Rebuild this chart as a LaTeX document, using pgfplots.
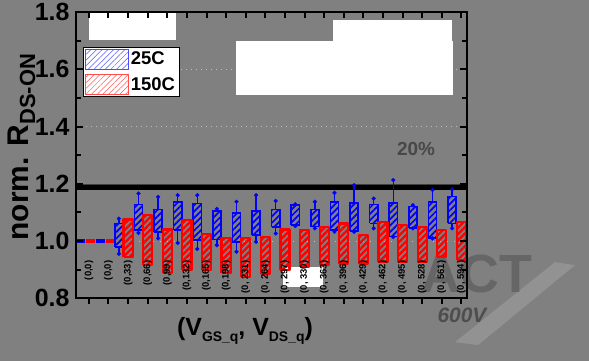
\documentclass[border=0pt]{standalone}
\usepackage{fontspec}
\setmainfont{Liberation Sans}
\usepackage{pgfplots}
\pgfplotsset{compat=1.18}
\usetikzlibrary{patterns.meta}
\definecolor{bg}{RGB}{128,128,128}
\definecolor{dtext}{RGB}{72,72,72}
\definecolor{dotc}{RGB}{190,190,190}
\definecolor{wm}{RGB}{102,102,102}
\definecolor{wm2}{RGB}{78,78,78}
\definecolor{sw}{RGB}{146,146,146}
\begin{document}
\begin{tikzpicture}
\fill[bg] (0bp,0bp) rectangle (589bp,361bp);
% watermark (behind the chart)
\fill[sw] (455bp,19bp) -- (555bp,99bp) -- (575bp,96bp) -- (478bp,16bp) -- cycle;
\node[anchor=base, font=\bfseries\fontsize{54}{54}\selectfont, text=wm, inner sep=0] at (477bp,69bp) {ACT};
\node[anchor=base, font=\bfseries\itshape\fontsize{21}{21}\selectfont, text=wm2, inner sep=0] at (462bp,39bp) {600V};
\begin{axis}[
  at={(76bp,63bp)}, anchor=south west,
  width=391bp, height=286bp, scale only axis,
  xmin=0.342, xmax=20.29, ymin=0.8, ymax=1.8,
  clip=false, axis on top,
  axis line style={line width=2.4bp, solid},
  major tick length=0bp, minor tick length=0bp,
  ytick={0.8,1.0,1.2,1.4,1.6,1.8},
  yticklabel style={font=\bfseries\fontsize{25}{25}\selectfont, xshift=-3bp,
    /pgf/number format/fixed, /pgf/number format/fixed zerofill, /pgf/number format/precision=1,
    /pgf/number format/assume math mode=true},
  xtick={1,...,20},
  xticklabels={{(0,0)},{(0,0)},{(0,33)},{(0,66)},{(0,99)},{(0,132)},{(0,165)},{(0,198)},{(0, 231)},{(0, 264)},{(0, 297)},{(0, 330)},{(0, 363)},{(0, 396)},{(0, 429)},{(0, 462)},{(0, 495)},{(0, 528)},{(0, 561)},{(0, 594)}},
  xticklabel style={font=\bfseries\fontsize{9.5}{9.5}\selectfont, rotate=90, anchor=east, xshift=41bp},
  legend style={at={(0.0179,0.8776)}, anchor=north west, draw=black, line width=0.6bp, fill=white,
    inner xsep=2bp, inner ysep=1.5bp, row sep=5bp,
    font=\bfseries\fontsize{18.5}{18.5}\selectfont, text=black},
  legend cell align=left,
  unbounded coords=jump,
]
% faint dotted reference lines
\addplot[forget plot, draw=dotc, line width=0.8bp, dash pattern=on 1bp off 4bp] coordinates {(0.342,1.6) (20.29,1.6)};
\addplot[forget plot, draw=dotc, line width=0.8bp, dash pattern=on 1bp off 4bp] coordinates {(0.342,1.4) (20.29,1.4)};
\addplot[forget plot, draw=dotc, line width=0.8bp, dash pattern=on 1bp off 6bp] coordinates {(0.342,1.0) (20.29,1.0)};
% 20% limit line
\addplot[forget plot, draw=black!75, line width=2bp, solid] coordinates {(0.342,1.196) (20.29,1.196)};
\addplot[forget plot, draw=black, line width=5bp, solid] coordinates {(0.342,1.186) (20.29,1.186)};
% white boxes
\fill[white] (axis cs:1.005,1.702) rectangle (axis cs:5.44,1.7965);
\fill[white] (axis cs:13.45,1.699) rectangle (axis cs:19.52,1.772);
\fill[white] (axis cs:8.505,1.510) rectangle (axis cs:19.57,1.699);
\fill[white] (axis cs:10.90,0.838) rectangle (axis cs:12.94,0.908);
% (0,0) reference: both normalised to 1
\addplot[forget plot, blue, line width=4bp, dash pattern=on 9bp off 11bp] coordinates {(0.342,1.0) (2.29,1.0)};
\addplot[forget plot, red, line width=4bp, dash pattern=on 0bp off 10bp on 9bp off 1bp] coordinates {(0.342,1.0) (2.29,1.0)};
% ---- 25C (blue): whiskers (lower whisker--Q1, Q3--upper whisker)
\addplot[forget plot, blue, line width=1.5bp, solid] coordinates {
(2.53,0.955) (2.53,0.979) (2.53,nan) (2.53,1.061) (2.53,1.078) (2.53,nan)
(3.53,1.028) (3.53,1.038) (3.53,nan) (3.53,1.128) (3.53,1.166) (3.53,nan)
(4.53,1.009) (4.53,1.032) (4.53,nan) (4.53,1.110) (4.53,1.154) (4.53,nan)
(5.53,0.993) (5.53,1.038) (5.53,nan) (5.53,1.137) (5.53,1.160) (5.53,nan)
(6.53,0.972) (6.53,1.003) (6.53,nan) (6.53,1.131) (6.53,1.160) (6.53,nan)
(7.53,0.985) (7.53,1.005) (7.53,nan) (7.53,1.105) (7.53,1.112) (7.53,nan)
(8.53,0.962) (8.53,0.997) (8.53,nan) (8.53,1.097) (8.53,1.137) (8.53,nan)
(9.53,0.997) (9.53,1.020) (9.53,nan) (9.53,1.105) (9.53,1.160) (9.53,nan)
(10.53,1.026) (10.53,1.049) (10.53,nan) (10.53,1.110) (10.53,1.140) (10.53,nan)
(11.53,1.052) (11.53,1.055) (11.53,nan) (11.53,1.125) (11.53,1.128) (11.53,nan)
(12.53,1.044) (12.53,1.050) (12.53,nan) (12.53,1.110) (12.53,1.137) (12.53,nan)
(13.53,1.032) (13.53,1.038) (13.53,nan) (13.53,1.137) (13.53,1.168) (13.53,nan)
(14.53,1.032) (14.53,1.034) (14.53,nan) (14.53,1.133) (14.53,1.195) (14.53,nan)
(15.53,1.044) (15.53,1.061) (15.53,nan) (15.53,1.128) (15.53,1.148) (15.53,nan)
(16.53,1.014) (16.53,1.016) (16.53,nan) (16.53,1.133) (16.53,1.213) (16.53,nan)
(17.53,1.044) (17.53,1.046) (17.53,nan) (17.53,1.121) (17.53,1.125) (17.53,nan)
(18.53,1.009) (18.53,1.011) (18.53,nan) (18.53,1.137) (18.53,1.178) (18.53,nan)
(19.53,1.044) (19.53,1.061) (19.53,nan) (19.53,1.156) (19.53,1.180)
};
% whisker caps
\addplot[forget plot, blue, only marks, mark=*, mark size=1.9bp, solid] coordinates {
(2.53,0.955) (2.53,1.078) (3.53,1.028) (3.53,1.166) (4.53,1.009) (4.53,1.154)
(5.53,0.993) (5.53,1.160) (6.53,0.972) (6.53,1.160) (7.53,0.985) (7.53,1.112)
(8.53,0.962) (8.53,1.137) (9.53,0.997) (9.53,1.160) (10.53,1.026) (10.53,1.140)
(11.53,1.052) (11.53,1.128) (12.53,1.044) (12.53,1.137) (13.53,1.032) (13.53,1.168)
(14.53,1.032) (14.53,1.195) (15.53,1.044) (15.53,1.148) (16.53,1.014) (16.53,1.213)
(17.53,1.044) (17.53,1.125) (18.53,1.009) (18.53,1.178) (19.53,1.044) (19.53,1.180)
};
% boxes Q1--Q3
\addplot[forget plot, draw=blue, solid, line width=1.5bp, line join=miter,
  pattern={Lines[angle=45,distance=4.5bp,line width=1.7bp]}, pattern color=blue] coordinates {
(2.32,0.979) (2.74,0.979) (2.74,1.061) (2.32,1.061) (2.32,0.979) (2.32,nan)
(3.32,1.038) (3.74,1.038) (3.74,1.128) (3.32,1.128) (3.32,1.038) (3.32,nan)
(4.32,1.032) (4.74,1.032) (4.74,1.110) (4.32,1.110) (4.32,1.032) (4.32,nan)
(5.32,1.038) (5.74,1.038) (5.74,1.137) (5.32,1.137) (5.32,1.038) (5.32,nan)
(6.32,1.003) (6.74,1.003) (6.74,1.131) (6.32,1.131) (6.32,1.003) (6.32,nan)
(7.32,1.005) (7.74,1.005) (7.74,1.105) (7.32,1.105) (7.32,1.005) (7.32,nan)
(8.32,0.997) (8.74,0.997) (8.74,1.097) (8.32,1.097) (8.32,0.997) (8.32,nan)
(9.32,1.020) (9.74,1.020) (9.74,1.105) (9.32,1.105) (9.32,1.020) (9.32,nan)
(10.32,1.049) (10.74,1.049) (10.74,1.110) (10.32,1.110) (10.32,1.049) (10.32,nan)
(11.32,1.055) (11.74,1.055) (11.74,1.125) (11.32,1.125) (11.32,1.055) (11.32,nan)
(12.32,1.050) (12.74,1.050) (12.74,1.110) (12.32,1.110) (12.32,1.050) (12.32,nan)
(13.32,1.038) (13.74,1.038) (13.74,1.137) (13.32,1.137) (13.32,1.038) (13.32,nan)
(14.32,1.034) (14.74,1.034) (14.74,1.133) (14.32,1.133) (14.32,1.034) (14.32,nan)
(15.32,1.061) (15.74,1.061) (15.74,1.128) (15.32,1.128) (15.32,1.061) (15.32,nan)
(16.32,1.016) (16.74,1.016) (16.74,1.133) (16.32,1.133) (16.32,1.016) (16.32,nan)
(17.32,1.046) (17.74,1.046) (17.74,1.121) (17.32,1.121) (17.32,1.046) (17.32,nan)
(18.32,1.011) (18.74,1.011) (18.74,1.137) (18.32,1.137) (18.32,1.011) (18.32,nan)
(19.32,1.061) (19.74,1.061) (19.74,1.156) (19.32,1.156) (19.32,1.061)
};
% ---- 150C (red): boxes from lower to upper whisker
\addplot[forget plot, draw=red, solid, line width=2.2bp, line join=round,
  pattern={Lines[angle=45,distance=4.5bp,line width=2.4bp]}, pattern color=red] coordinates {
(2.77,0.943) (3.23,0.943) (3.23,1.075) (2.77,1.075) (2.77,0.943) (2.77,nan)
(3.77,0.915) (4.23,0.915) (4.23,1.090) (3.77,1.090) (3.77,0.915) (3.77,nan)
(4.77,0.889) (5.23,0.889) (5.23,1.040) (4.77,1.040) (4.77,0.889) (4.77,nan)
(5.77,0.898) (6.23,0.898) (6.23,1.073) (5.77,1.073) (5.77,0.898) (5.77,nan)
(6.77,0.898) (7.23,0.898) (7.23,1.025) (6.77,1.025) (6.77,0.898) (6.77,nan)
(7.77,0.888) (8.23,0.888) (8.23,1.009) (7.77,1.009) (7.77,0.888) (7.77,nan)
(8.77,0.875) (9.23,0.875) (9.23,1.009) (8.77,1.009) (8.77,0.875) (8.77,nan)
(9.77,0.886) (10.23,0.886) (10.23,1.014) (9.77,1.014) (9.77,0.886) (9.77,nan)
(10.77,0.898) (11.23,0.898) (11.23,1.040) (10.77,1.040) (10.77,0.898) (10.77,nan)
(11.77,0.910) (12.23,0.910) (12.23,1.038) (11.77,1.038) (11.77,0.910) (11.77,nan)
(12.77,0.915) (13.23,0.915) (13.23,1.049) (12.77,1.049) (12.77,0.915) (12.77,nan)
(13.77,0.921) (14.23,0.921) (14.23,1.061) (13.77,1.061) (13.77,0.921) (13.77,nan)
(14.77,0.921) (15.23,0.921) (15.23,1.020) (14.77,1.020) (14.77,0.921) (14.77,nan)
(15.77,0.927) (16.23,0.927) (16.23,1.067) (15.77,1.067) (15.77,0.927) (15.77,nan)
(16.77,0.927) (17.23,0.927) (17.23,1.055) (16.77,1.055) (16.77,0.927) (16.77,nan)
(17.77,0.927) (18.23,0.927) (18.23,1.049) (17.77,1.049) (17.77,0.927) (17.77,nan)
(18.77,0.944) (19.23,0.944) (19.23,1.038) (18.77,1.038) (18.77,0.944) (18.77,nan)
(19.77,0.933) (20.23,0.933) (20.23,1.067) (19.77,1.067) (19.77,0.933)
};
% legend
\addlegendimage{legend image code/.code={\draw[solid, draw=blue!70!white, line width=0.6bp, pattern={Lines[angle=45,distance=4bp,line width=0.5bp]}, pattern color=blue!65!white] (0bp,-10bp) rectangle (43bp,10bp);}}
\addlegendentry{25C}
\addlegendimage{legend image code/.code={\draw[solid, draw=red!70!white, line width=0.6bp, pattern={Lines[angle=45,distance=4bp,line width=0.5bp]}, pattern color=red!65!white] (0bp,-10bp) rectangle (43bp,10bp);}}
\addlegendentry{150C}
\end{axis}
% tick marks as small filled bars (axis frame: x 76..467 bp, y 63..349 bp)
\foreach \i in {1,...,20} {
  \fill[black] ({76bp+(\i-0.342)*19.601bp-1bp},349bp) rectangle ++(2bp,-6bp);
  \fill[black] ({76bp+(\i-0.342)*19.601bp-1bp},63bp) rectangle ++(2bp,-6bp);
}
\foreach \v in {0,1,2,3,4,5} {
  \fill[black] (76bp,{63bp+\v*57.2bp-1bp}) rectangle ++(7bp,2bp);
  \fill[black] (467bp,{63bp+\v*57.2bp-1bp}) rectangle ++(-7bp,2bp);
}
\foreach \v in {0,1,2,3,4} {
  \fill[black] (76bp,{91.6bp+\v*57.2bp-1bp}) rectangle ++(5bp,2bp);
  \fill[black] (467bp,{91.6bp+\v*57.2bp-1bp}) rectangle ++(-5bp,2bp);
}
% texts outside
\node[rotate=90, anchor=base, font=\bfseries\fontsize{30}{30}\selectfont, inner sep=0] at (28bp,214bp) {norm. R\raisebox{-7bp}{\fontsize{22}{22}\selectfont DS-ON}};
\node[anchor=base, font=\bfseries\fontsize{25}{25}\selectfont, inner sep=0] at (245bp,26bp) {(V\raisebox{-6bp}{\fontsize{14}{14}\selectfont GS\_q}, V\raisebox{-6bp}{\fontsize{14}{14}\selectfont DS\_q})};
\node[font=\bfseries\fontsize{19}{19}\selectfont, text=dtext, inner sep=0] at (416bp,212.5bp) {20\%};
\end{tikzpicture}
\end{document}
